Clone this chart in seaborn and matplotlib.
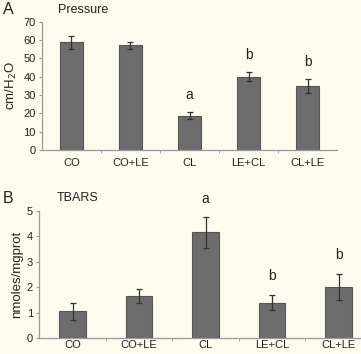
import matplotlib
matplotlib.use("Agg")
import matplotlib.pyplot as plt
import seaborn as sns
import numpy as np
import pandas as pd

groups = ["CO", "CO+LE", "CL", "LE+CL", "CL+LE"]
pressure = [58.7, 57.0, 18.7, 40.0, 35.0]
pressure_err = [3.5, 2.0, 2.0, 2.5, 3.8]
pressure_sig = ["", "", "a", "b", "b"]
pressure_sig_y = [None, None, 30, 51.8, 48]
tbars = [1.05, 1.65, 4.15, 1.4, 2.0]
tbars_err = [0.33, 0.28, 0.6, 0.3, 0.52]
tbars_sig = ["", "", "a", "b", "b"]
tbars_sig_y = [None, None, 5.46, 2.42, 3.27]

sns.set_style("white")
plt.rcParams['font.family'] = ['Liberation Sans', 'DejaVu Sans']

bg = "#fcfbee"
bar_c = "#6c6c6c"
edge_c = "#555555"
spine_c = "#9a9a9a"

fig = plt.figure(figsize=(3.61, 3.54), dpi=100, facecolor=bg)
axA = fig.add_axes([0.116, 0.576, 0.818, 0.363])
axB = fig.add_axes([0.109, 0.0444, 0.921, 0.3606])


def style(ax, values, errs, sig, sig_y, ylim, yticks, ylabel, width, xpad):
    df = pd.DataFrame({"g": groups, "v": values})
    sns.barplot(data=df, x="g", y="v", ax=ax, color=bar_c, width=width,
                saturation=1, edgecolor=edge_c, linewidth=0.8, errorbar=None)
    x = np.arange(len(groups))
    ax.errorbar(x, values, yerr=errs, fmt="none", ecolor="#333333",
                elinewidth=0.9, capsize=2, capthick=0.9)
    for xi, s, yy in zip(x, sig, sig_y):
        if s:
            ax.text(xi, yy, s, ha="center", va="center", fontsize=10,
                    color="#222222", clip_on=False)
    ax.set_facecolor(bg)
    ax.set_xlim(-0.5, 4.5)
    ax.set_ylim(*ylim)
    ax.set_yticks(yticks)
    ax.set_xlabel("")
    ax.set_ylabel(ylabel, fontsize=9.5, color="#222222", labelpad=3)
    for s in ["top", "right"]:
        ax.spines[s].set_visible(False)
    for s in ["left", "bottom"]:
        ax.spines[s].set_color(spine_c)
        ax.spines[s].set_linewidth(0.9)
    ax.set_xticks(x)
    ax.set_xticklabels(groups)
    ax.set_xticks(np.arange(0.5, 4.5, 1), minor=True)
    ax.tick_params(axis="x", which="major", length=0, labelsize=8,
                   labelcolor="#222222", pad=xpad)
    ax.tick_params(axis="x", which="minor", length=2.5, color=spine_c,
                   direction="out", bottom=True)
    ax.tick_params(axis="y", length=2.5, color=spine_c, direction="out",
                   left=True, labelsize=8, labelcolor="#222222", pad=2)


style(axA, pressure, pressure_err, pressure_sig, pressure_sig_y,
      (0, 70), range(0, 71, 10), "cm/H$_2$O", 0.385, 6)
style(axB, tbars, tbars_err, tbars_sig, tbars_sig_y,
      (0, 5), range(0, 6), "nmoles/mgprot", 0.40, 1.5)

fig.text(0.008, 0.972, "A", fontsize=11.5, color="#222222", va="center")
fig.text(0.16, 0.972, "Pressure", fontsize=9, color="#222222", va="center")
fig.text(0.008, 0.44, "B", fontsize=11.5, color="#222222", va="center")
fig.text(0.158, 0.44, "TBARS", fontsize=9, color="#222222", va="center")

fig.savefig("out.png", dpi=100, facecolor=bg)
